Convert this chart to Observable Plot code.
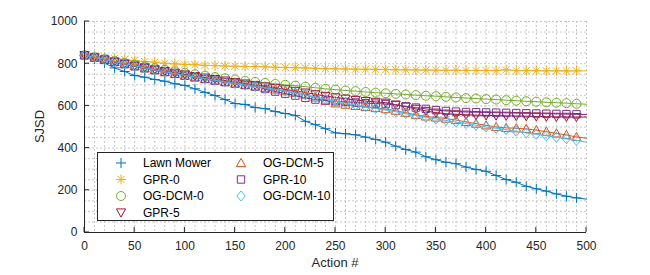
<!DOCTYPE html>
<html>
<head>
<meta charset="utf-8">
<script src="https://cdn.jsdelivr.net/npm/d3@7"></script>
<script src="https://cdn.jsdelivr.net/npm/@observablehq/plot@0.6"></script>
<style>
  html, body { margin: 0; padding: 0; background: #fff; }
  #chart { width: 650px; height: 275px; }
</style>
</head>
<body>
<div id="chart"></div>
<script>
// ---- data ----
const actions = d3.range(0, 501, 10);
const xTicks = [0, 50, 100, 150, 200, 250, 300, 350, 400, 450, 500];
const yTicks = [0, 200, 400, 600, 800, 1000];
const xMinor = d3.range(0, 501, 10);
const yMinor = d3.range(0, 1001, 50);

const seriesNames = ["Lawn Mower", "GPR-0", "OG-DCM-0", "GPR-5", "OG-DCM-5", "GPR-10", "OG-DCM-10"];
const seriesColors = ["#0072BD", "#EDB120", "#77AC30", "#A2142F", "#D95319", "#7E2F8E", "#4DBEEE"];

const lawnMower = [840,822,803,780,763,744,736,725,717,705,697,681,664,649,630,611,607,592,587,573,564,555,527,511,492,472,468,463,452,441,428,409,393,381,359,345,333,326,310,299,290,270,251,238,219,207,196,183,172,164,158];
const gpr0 = [840,836,830,825,820,815,810,807,802,799,796,795,792,791,789,788,787,786,785,783,782,781,780,778,776,776,775,774,774,773,772,771,771,770,770,769,769,769,768,768,768,767,771,767,767,767,766,766,766,766,766];
const ogdcm0 = [840,831,822,812,803,795,787,779,771,764,757,750,743,737,731,725,719,714,709,704,700,696,691,686,681,677,673,670,666,663,660,657,654,651,648,646,643,640,637,635,632,630,627,625,622,620,617,615,613,610,608];
const gpr5 = [840,830,820,810,800,791,782,773,765,757,749,741,734,727,720,713,706,699,692,685,678,671,663,655,647,640,634,628,623,619,615,606,596,586,576,568,563,560,558,556,555,554,553,552,551,550,549,548,548,547,547];
const ogdcm5 = [840,829,818,808,798,788,778,769,760,751,743,735,727,720,713,706,699,692,685,678,670,662,653,640,625,612,606,600,595,590,585,577,568,558,550,545,540,533,524,516,508,500,496,494,491,485,478,470,462,453,447];
const gpr10 = [840,829,818,808,798,788,779,770,761,752,744,736,728,720,713,706,699,692,680,668,658,649,638,630,626,622,619,616,613,611,609,604,598,592,586,580,576,573,571,570,569,568,567,566,565,564,563,562,561,560,559];
const ogdcm10 = [840,830,820,810,800,790,780,771,762,753,745,737,729,721,713,706,699,692,685,678,670,662,652,642,632,622,613,604,596,588,580,572,563,554,546,538,531,523,516,508,500,494,488,480,472,465,458,451,444,437,428];

const seriesValues = [lawnMower, gpr0, ogdcm0, gpr5, ogdcm5, gpr10, ogdcm10];

// ---- marker shapes (MATLAB-like) ----
const symbols = [
  {draw(c){ c.moveTo(-5,0); c.lineTo(5,0); c.moveTo(0,-5); c.lineTo(0,5); }},
  {draw(c){ const r=5, d=3.6; c.moveTo(-r,0); c.lineTo(r,0); c.moveTo(0,-r); c.lineTo(0,r);
            c.moveTo(-d,-d); c.lineTo(d,d); c.moveTo(-d,d); c.lineTo(d,-d); }},
  {draw(c){ c.moveTo(4.5,0); c.arc(0,0,4.5,0,2*Math.PI); c.closePath(); }},
  {draw(c){ c.moveTo(-4.6,-3.6); c.lineTo(4.6,-3.6); c.lineTo(0,4.6); c.closePath(); }},
  {draw(c){ c.moveTo(-4.6,3.6); c.lineTo(4.6,3.6); c.lineTo(0,-4.6); c.closePath(); }},
  {draw(c){ c.moveTo(-3.7,-3.7); c.lineTo(3.7,-3.7); c.lineTo(3.7,3.7); c.lineTo(-3.7,3.7); c.closePath(); }},
  {draw(c){ c.moveTo(0,-5); c.lineTo(4.2,0); c.lineTo(0,5); c.lineTo(-4.2,0); c.closePath(); }}
];

const tables = seriesValues.map((vals, s) => vals.map((v, i) => ({x: actions[i], y: v, s})));

const seriesMarks = tables.flatMap((t, s) => [
  Plot.line(t, {x: "x", y: "y", stroke: seriesColors[s], strokeWidth: 1}),
  Plot.dot(t.filter(d => d.x < 500), {x: "x", y: "y", symbol: symbols[s], stroke: seriesColors[s], fill: "none", strokeWidth: 1, r: 4})
]);

const gridStyle = {stroke: "#c8c8c8", strokeOpacity: 1, strokeDasharray: "2,2", strokeWidth: 1};

const plot = Plot.plot({
  width: 650,
  height: 275,
  marginLeft: 84,
  marginRight: 64,
  marginTop: 21,
  marginBottom: 43,
  style: {fontFamily: "'Liberation Sans', Arial, Helvetica, sans-serif", fontSize: "12px", color: "#262626", background: "#fff"},
  x: {domain: [0, 500], label: null},
  y: {domain: [0, 1000], label: null},
  marks: [
    Plot.gridX(xMinor, gridStyle),
    Plot.gridY(yMinor, gridStyle),
    Plot.axisX(xTicks, {tickSize: 0, tickPadding: 9, label: null, fill: "#262626", fontSize: 12, tickFormat: d3.format("d")}),
    Plot.axisY(yTicks, {tickSize: 0, tickPadding: 7, label: null, fill: "#262626", fontSize: 12, tickFormat: d3.format("d")}),
    ...seriesMarks,
    Plot.ruleY([0], {stroke: "#262626", strokeWidth: 1}),
    Plot.ruleX([0], {stroke: "#262626", strokeWidth: 1})
  ]
});

const svg = d3.select(plot);
const xs = plot.scale("x"), ys = plot.scale("y");
const X = v => xs.apply(v), Y = v => ys.apply(v);

// inward ticks
const tg = svg.append("g").attr("stroke", "#262626").attr("stroke-width", 1);
xTicks.forEach(v => tg.append("line").attr("x1", X(v)).attr("x2", X(v)).attr("y1", Y(0)).attr("y2", Y(0) - 5));
yTicks.forEach(v => tg.append("line").attr("x1", X(0)).attr("x2", X(0) + 5).attr("y1", Y(v)).attr("y2", Y(v)));

// axis titles
svg.append("text").attr("x", (X(0) + X(500)) / 2).attr("y", 267)
  .attr("text-anchor", "middle").attr("font-size", "13px").attr("fill", "#262626").text("Action #");
svg.append("text").attr("transform", `translate(44,${(Y(0) + Y(1000)) / 2}) rotate(-90)`)
  .attr("text-anchor", "middle").attr("font-size", "13px").attr("fill", "#262626").text("SJSD");

// legend
const lg = svg.append("g").attr("text-anchor", "start");
lg.append("rect").attr("x", 97.5).attr("y", 152.5).attr("width", 236).attr("height", 68)
  .attr("fill", "#fff").attr("stroke", "#262626").attr("stroke-width", 1);
const colX = [[121, 143], [241, 263]];
const rowY = [163, 179.5, 196, 212.5];
seriesNames.forEach((name, s) => {
  const col = s < 4 ? 0 : 1;
  const row = s < 4 ? s : s - 4;
  const mx = colX[col][0], tx = colX[col][1], y = rowY[row];
  lg.append("path").attr("transform", `translate(${mx},${y})`)
    .attr("d", d3.symbol(symbols[s], 64)()).attr("fill", "none")
    .attr("stroke", seriesColors[s]).attr("stroke-width", 1);
  lg.append("text").attr("x", tx).attr("y", y).attr("dy", "0.36em")
    .attr("text-anchor", "start").attr("font-size", "12px").attr("fill", "#000").text(name);
});

document.getElementById("chart").appendChild(plot);
</script>
</body>
</html>
